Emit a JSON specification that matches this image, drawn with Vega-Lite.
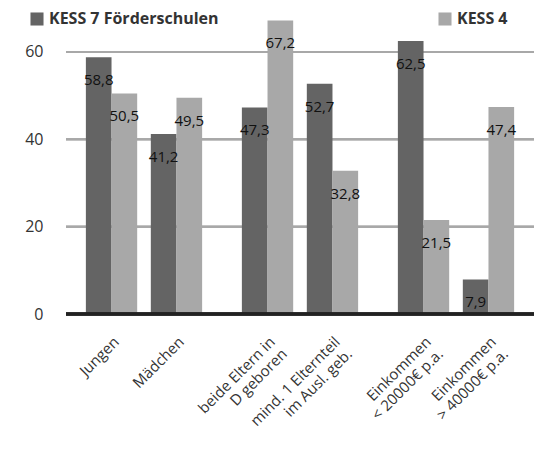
{
  "$schema": "https://vega.github.io/schema/vega-lite/v6.json",
  "padding": {"left": 24, "top": 11, "right": 0, "bottom": 5},
  "bounds": "flush",
  "config": {
    "font": "Open Sans",
    "view": {"stroke": null},
    "locale": {"number": {"decimal": ",", "thousands": ".", "grouping": [3], "currency": ["", "€"]}}
  },
  "data": {"values": [
    {"group": "1", "category": "Jungen", "series": "KESS 7 Förderschulen", "value": 58.8},
    {"group": "1", "category": "Jungen", "series": "KESS 4", "value": 50.5},
    {"group": "1", "category": "Mädchen", "series": "KESS 7 Förderschulen", "value": 41.2},
    {"group": "1", "category": "Mädchen", "series": "KESS 4", "value": 49.5},
    {"group": "2", "category": "beide Eltern in|D geboren", "series": "KESS 7 Förderschulen", "value": 47.3},
    {"group": "2", "category": "beide Eltern in|D geboren", "series": "KESS 4", "value": 67.2},
    {"group": "2", "category": "mind. 1 Elternteil|im Ausl. geb.", "series": "KESS 7 Förderschulen", "value": 52.7},
    {"group": "2", "category": "mind. 1 Elternteil|im Ausl. geb.", "series": "KESS 4", "value": 32.8},
    {"group": "3", "category": "Einkommen|< 20000€ p.a.", "series": "KESS 7 Förderschulen", "value": 62.5},
    {"group": "3", "category": "Einkommen|< 20000€ p.a.", "series": "KESS 4", "value": 21.5},
    {"group": "3", "category": "Einkommen|> 40000€ p.a.", "series": "KESS 7 Förderschulen", "value": 7.9},
    {"group": "3", "category": "Einkommen|> 40000€ p.a.", "series": "KESS 4", "value": 47.4}
  ]},
  "facet": {"column": {"field": "group", "type": "nominal", "title": null, "header": {"labels": false, "title": null}}},
  "spacing": 0,
  "resolve": {"scale": {"x": "independent", "xOffset": "independent"}},
  "spec": {
    "width": 156,
    "height": 297,
    "layer": [
      {
        "mark": {"type": "rule", "color": "#a8a8a8", "strokeWidth": 2},
        "encoding": {"y": {"datum": 20, "type": "quantitative", "scale": {"domain": [0, 68], "nice": false}}}
      },
      {
        "mark": {"type": "rule", "color": "#a8a8a8", "strokeWidth": 2},
        "encoding": {"y": {"datum": 40, "type": "quantitative"}}
      },
      {
        "mark": {"type": "rule", "color": "#a8a8a8", "strokeWidth": 2},
        "encoding": {"y": {"datum": 60, "type": "quantitative"}}
      },
      {
        "mark": {"type": "bar"},
        "encoding": {
          "x": {
            "field": "category", "type": "nominal", "sort": null,
            "scale": {"paddingInner": 0.21, "paddingOuter": 0.306},
            "axis": {
              "title": null, "labelAngle": -45, "labelFontSize": 15, "labelColor": "#333",
              "labelExpr": "split(datum.label, '|')", "ticks": false, "domain": false,
              "labelPadding": 20, "labelLimit": 300
            }
          },
          "xOffset": {"field": "series", "type": "nominal", "sort": ["KESS 7 Förderschulen", "KESS 4"], "scale": {"paddingInner": 0, "paddingOuter": 0}},
          "y": {
            "field": "value", "type": "quantitative",
            "scale": {"domain": [0, 68], "nice": false},
            "axis": {
              "title": null, "values": [0, 20, 40, 60], "ticks": false, "domain": false, "grid": false,
              "labelFontSize": 16, "labelColor": "#333", "labelPadding": 23
            }
          },
          "color": {
            "field": "series", "type": "nominal",
            "sort": ["KESS 7 Förderschulen", "KESS 4"],
            "scale": {"domain": ["KESS 7 Förderschulen", "KESS 4"], "range": ["#646464", "#a8a8a8"]},
            "legend": {
              "title": null, "orient": "none", "legendX": -37, "legendY": -6, "direction": "horizontal",
              "symbolType": "square", "symbolSize": 170, "symbolStrokeWidth": 0,
              "labelFontSize": 16, "labelFontWeight": "bold", "labelColor": "#333", "labelLimit": 300,
              "columnPadding": 218
            }
          }
        }
      },
      {
        "mark": {"type": "rule", "color": "#222", "strokeWidth": 3},
        "encoding": {"y": {"datum": 0, "type": "quantitative"}}
      },
      {
        "mark": {"type": "text", "dy": 23, "fontSize": 15, "color": "#111", "baseline": "middle"},
        "encoding": {
          "x": {"field": "category", "type": "nominal", "sort": null},
          "xOffset": {"field": "series", "type": "nominal", "sort": ["KESS 7 Förderschulen", "KESS 4"]},
          "y": {"field": "value", "type": "quantitative"},
          "text": {"field": "value", "type": "quantitative", "format": ".1f"}
        }
      }
    ]
  }
}
